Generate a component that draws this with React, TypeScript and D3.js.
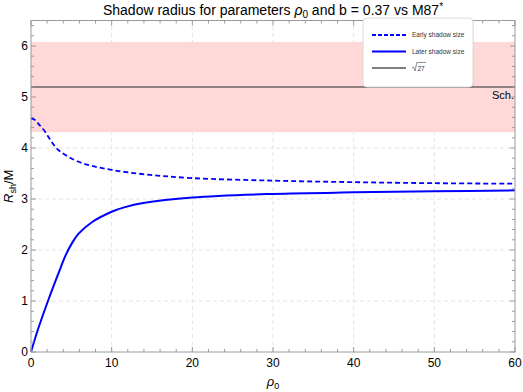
import * as d3 from "d3";

// ρ0 samples and shadow radii
const earlyRho = [0, 0.4, 0.9, 1.75, 2.55, 3.4, 4.6, 5.9, 7.5, 10, 13.7, 20, 30, 40, 50, 60];
const earlySize = [4.58, 4.56, 4.48, 4.32, 4.12, 3.96, 3.83, 3.73, 3.65, 3.57, 3.49, 3.41, 3.36, 3.33, 3.31, 3.3];

const laterRho = [0, 0.9, 2.15, 3.4, 4.3, 5.1, 5.9, 7.5, 10, 11.65, 13.9, 20, 30, 40, 50, 60];
const laterSize = [0, 0.46, 1.02, 1.54, 1.9, 2.14, 2.32, 2.54, 2.75, 2.84, 2.92, 3.03, 3.1, 3.13, 3.15, 3.17];

// M87* band and Schwarzschild value
const bandLow = 4.31;
const bandHigh = 6.08;
const schValue = Math.sqrt(27);

const xTicks = [0, 10, 20, 30, 40, 50, 60];
const yTicks = [0, 1, 2, 3, 4, 5, 6];

const legendItems = [
  { label: "Early shadow size", color: "#0000ff", width: 2, dash: "4,2" },
  { label: "Later shadow size", color: "#0000ff", width: 2, dash: "" },
  { label: "sqrt", color: "#000000", width: 1, dash: "" },
];

const W = 523;
const H = 392;
const margin = { left: 31, right: 8, top: 20.5, bottom: 40 };

export default function App() {
  const x = d3.scaleLinear().domain([0, 60]).range([margin.left, W - margin.right]);
  const y = d3.scaleLinear().domain([0, 6.5]).range([H - margin.bottom, margin.top]);

  const x0 = x.range()[0];
  const x1 = x.range()[1];
  const y0 = y.range()[0];
  const y1 = y.range()[1];

  const earlyPath = d3
    .line<number>()
    .x((d) => x(d))
    .y((_, i) => y(earlySize[i]))
    .curve(d3.curveCatmullRom.alpha(0.5))(earlyRho);
  const laterPath = d3
    .line<number>()
    .x((d) => x(d))
    .y((_, i) => y(laterSize[i]))
    .curve(d3.curveCatmullRom.alpha(0.5))(laterRho);

  const xMinor = d3.range(0, 60.01, 2).filter((v) => v % 10 !== 0);
  const yMinor = d3.range(0, 6.51, 0.2).filter((v) => Math.abs(v - Math.round(v)) > 0.01);

  const frame = "#9a9a9a";
  const font = "'Liberation Sans', Arial, sans-serif";

  const lx = 363;
  const ly = 18;

  return (
    <div style={{ position: "fixed", left: 0, top: 0 }}>
      <svg width={W} height={H} style={{ display: "block", fontFamily: font }}>
        <rect width={W} height={H} fill="#fff" />
        {/* grid */}
        {xTicks.slice(1, -1).map((t) => (
          <line key={"gx" + t} x1={x(t)} x2={x(t)} y1={y0} y2={y1} stroke="#e4e4e4" strokeDasharray="4,3" />
        ))}
        {yTicks.slice(1).map((t) => (
          <line key={"gy" + t} x1={x0} x2={x1} y1={y(t)} y2={y(t)} stroke="#e4e4e4" strokeDasharray="4,3" />
        ))}
        {/* M87* band */}
        <rect x={x0} width={x1 - x0} y={y(bandHigh)} height={y(bandLow) - y(bandHigh)} fill="#ffd8d8" />
        <line x1={x0} x2={x1} y1={y(schValue)} y2={y(schValue)} stroke="#6e6464" strokeWidth={1.5} />
        <text x={x1 - 1} y={y(schValue) + 12} textAnchor="end" fontSize={11}>
          Sch.
        </text>
        {/* curves */}
        <path d={earlyPath || ""} fill="none" stroke="#0000ff" strokeWidth={1.8} strokeDasharray="5,3" />
        <path d={laterPath || ""} fill="none" stroke="#0000ff" strokeWidth={2} />
        {/* frame */}
        <rect x={x0} y={y1} width={x1 - x0} height={y0 - y1} fill="none" stroke={frame} strokeWidth={1} />
        {xTicks.map((t) => (
          <g key={"xt" + t}>
            <line x1={x(t)} x2={x(t)} y1={y0} y2={y0 - 5} stroke={frame} />
            <line x1={x(t)} x2={x(t)} y1={y1} y2={y1 + 5} stroke={frame} />
            <text x={x(t)} y={y0 + 15} textAnchor="middle" fontSize={12}>
              {t}
            </text>
          </g>
        ))}
        {xMinor.map((t) => (
          <g key={"xm" + t}>
            <line x1={x(t)} x2={x(t)} y1={y0} y2={y0 - 3} stroke={frame} />
            <line x1={x(t)} x2={x(t)} y1={y1} y2={y1 + 3} stroke={frame} />
          </g>
        ))}
        {yTicks.map((t) => (
          <g key={"yt" + t}>
            <line x1={x0} x2={x0 + 5} y1={y(t)} y2={y(t)} stroke={frame} />
            <line x1={x1} x2={x1 - 5} y1={y(t)} y2={y(t)} stroke={frame} />
            <text x={x0 - 3} y={y(t) + 4} textAnchor="end" fontSize={12}>
              {t}
            </text>
          </g>
        ))}
        {yMinor.map((t) => (
          <g key={"ym" + t}>
            <line x1={x0} x2={x0 + 3} y1={y(t)} y2={y(t)} stroke={frame} />
            <line x1={x1} x2={x1 - 3} y1={y(t)} y2={y(t)} stroke={frame} />
          </g>
        ))}
        {/* axis labels */}
        <text x={(x0 + x1) / 2} y={386} textAnchor="middle" fontSize={13}>
          <tspan fontStyle="italic">ρ</tspan>
          <tspan fontSize={9} dy={3}>0</tspan>
        </text>
        <text transform={`translate(13,${(y0 + y1) / 2}) rotate(-90)`} textAnchor="middle" fontSize={13}>
          <tspan fontStyle="italic">R</tspan>
          <tspan fontSize={9} dy={3}>sh</tspan>
          <tspan dy={-3}>/M</tspan>
        </text>
        {/* title */}
        <text x={273} y={15} textAnchor="middle" fontSize={14}>
          Shadow radius for parameters <tspan fontStyle="italic">ρ</tspan>
          <tspan fontSize={10} dy={3}>0</tspan>
          <tspan dy={-3}> and b = 0.37 vs M87</tspan>
          <tspan fontSize={10} dy={-5}>*</tspan>
        </text>
        {/* legend */}
        <rect x={lx + 1} y={ly + 1} width={110} height={69} rx={4} fill="#000" opacity={0.06} />
        <rect x={lx} y={ly} width={110} height={69} rx={4} fill="#fff" stroke="#dcdcdc" />
        {legendItems.map((it, i) => {
          const yy = ly + 17 + i * 16.5;
          return (
            <g key={it.label}>
              <line
                x1={lx + 9}
                x2={lx + 43}
                y1={yy}
                y2={yy}
                stroke={it.color}
                strokeWidth={it.width}
                strokeDasharray={it.dash}
              />
              {it.label === "sqrt" ? (
                <g>
                  <path
                    d={`M${lx + 49},${yy} l1.5,-1 l1.5,4 l1.8,-8.5 h9`}
                    fill="none"
                    stroke="#444"
                    strokeWidth={0.6}
                  />
                  <text x={lx + 54.5} y={yy + 2.5} fontSize={6.5} fill="#333">
                    27
                  </text>
                </g>
              ) : (
                <text x={lx + 49} y={yy + 2.3} fontSize={6.5} fill="#333">
                  {it.label}
                </text>
              )}
            </g>
          );
        })}
      </svg>
    </div>
  );
}
